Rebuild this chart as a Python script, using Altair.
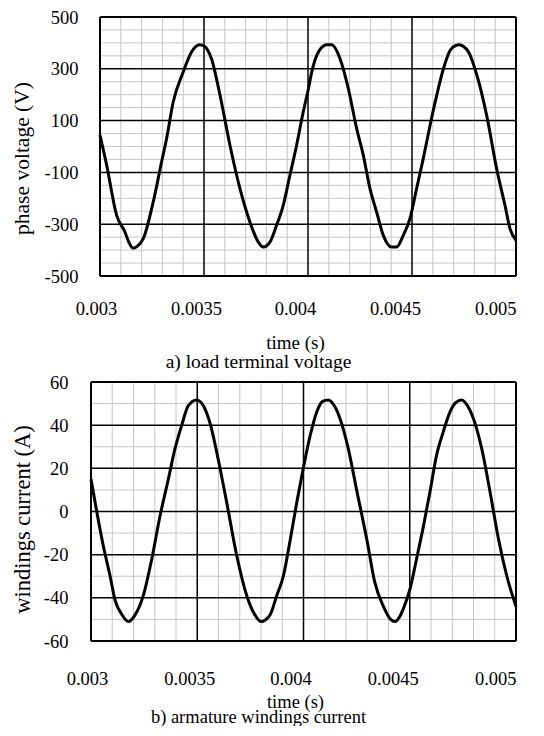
import altair as alt
import pandas as pd

FONT = "Liberation Serif"

# ---- data ----
time_v = [0.003, 0.003032, 0.00308, 0.00312, 0.00314, 0.00316, 0.00318, 0.003208, 0.003256, 0.003296,
          0.00332, 0.003352, 0.0034, 0.00344, 0.00346, 0.00348, 0.0035, 0.003536, 0.003577, 0.003625,
          0.003673, 0.003721, 0.003761, 0.003785, 0.003817, 0.003849, 0.003881, 0.003913, 0.003945,
          0.003977, 0.004002, 0.004018, 0.00405, 0.00409, 0.004114, 0.004154, 0.004194, 0.004234,
          0.004266, 0.004298, 0.00433, 0.004362, 0.004402, 0.004426, 0.004458, 0.00449, 0.004522,
          0.004554, 0.004587, 0.004619, 0.004651, 0.004683, 0.00471, 0.004728, 0.004748, 0.004772,
          0.004812, 0.004859, 0.004907, 0.004947, 0.004971, 0.005]
voltage = [44, -72, -266, -330, -372, -393, -385, -356, -214, -60,
           30, 172, 288, 365, 386, 393, 388, 339, 198, 4,
           -163, -292, -369, -388, -369, -304, -227, -111, 4,
           133, 223, 288, 365, 393, 393, 339, 223, 69,
           -34, -163, -253, -343, -388, -388, -343, -279, -163,
           -47, 82, 198, 300, 371, 390, 393, 386, 365,
           275, 120, -86, -227, -317, -362]

time_i = [0.003, 0.003027, 0.003058, 0.00309, 0.003113, 0.003144, 0.003176, 0.003207, 0.003246,
          0.003286, 0.003325, 0.003364, 0.003395, 0.003427, 0.003458, 0.003497, 0.003529, 0.00356,
          0.003599, 0.003639, 0.003686, 0.003733, 0.003772, 0.0038, 0.003842, 0.003874, 0.003905,
          0.003936, 0.003968, 0.003999, 0.004031, 0.004062, 0.00409, 0.004117, 0.004145, 0.004172,
          0.004211, 0.00425, 0.004298, 0.004336, 0.004376, 0.00441, 0.004431, 0.004451, 0.00447,
          0.004501, 0.004532, 0.004564, 0.004595, 0.004626, 0.004658, 0.004689, 0.004717, 0.004745,
          0.004772, 0.0048, 0.004839, 0.004878, 0.004918, 0.004957, 0.005]
current = [15, 0, -16, -30, -41, -47.5, -51, -48, -39,
           -22, -2, 15, 29, 40, 49, 51.7, 49, 41,
           24, 4, -20.5, -39, -48, -51, -48, -39, -30,
           -14, 4, 20, 35, 46, 51, 51.7, 49, 43,
           29, 10, -13, -33, -44, -50, -51, -49, -45,
           -36, -22, -7, 9, 26, 37, 46, 50.5, 51.7,
           49, 43, 29, 9, -13, -30, -44]

x_ticks = [0.003, 0.0035, 0.004, 0.0045, 0.005]
x_start, x_end = 0.003, 0.005
x_major = [0.0035, 0.004, 0.0045]
x_minor = [0.0031, 0.0032, 0.0033, 0.0034, 0.0036, 0.0037, 0.0038, 0.0039,
           0.0041, 0.0042, 0.0043, 0.0044, 0.0046, 0.0047, 0.0048, 0.0049]

v_ticks = [-500, -300, -100, 100, 300, 500]
v_edges = [-500, 500]
v_major = [-300, -100, 100, 300]
v_minor = [-450, -400, -350, -250, -200, -150, -50, 0, 50, 150, 200, 250, 350, 400, 450]

i_ticks = [-60, -40, -20, 0, 20, 40, 60]
i_edges = [-60, 60]
i_major = [-40, -20, 0, 20, 40]
i_minor = [-50, -30, -10, 10, 30, 50]

LABEL_ALIGN = {"condition": {"test": "datum.value >= 0.00499", "value": "right"}, "value": "center"}
LABEL_OFFSET = {"condition": [{"test": "datum.value < 0.0032", "value": -4},
                              {"test": "datum.value < 0.0037", "value": -8},
                              {"test": "datum.value < 0.0042", "value": -13},
                              {"test": "datum.value < 0.0047", "value": -17}],
                "value": 0}


def panel(t, y, ylabel, ydomain, yticks, yedges, ymajor, yminor, caption, xdomain,
          ylabpad, ytitlepad, ytitlesize, ytitley, xlabpad, xtitlepad, xtitlesize,
          capoffset, capsize):
    width, height = 425, 259
    xscale = alt.Scale(domain=xdomain, nice=False, zero=False)
    yscale = alt.Scale(domain=ydomain, nice=False, zero=False)
    xaxis = alt.Axis(values=x_ticks, labelExpr="'' + datum.value", title="time (s)",
                     labelAlign=LABEL_ALIGN, labelOffset=LABEL_OFFSET,
                     labelPadding=xlabpad, titlePadding=xtitlepad, titleFontSize=xtitlesize,
                     titleX=204)
    yaxis = alt.Axis(values=yticks, labelExpr="'' + datum.value", title=ylabel,
                     labelPadding=ylabpad, titlePadding=ytitlepad, titleFontSize=ytitlesize,
                     titleY=ytitley)

    def vr(vals, color, w):
        return alt.Chart(pd.DataFrame({"t": vals})).mark_rule(color=color, strokeWidth=w).encode(
            x=alt.X("t:Q", scale=xscale, axis=xaxis))

    def hr(vals, color, w):
        return alt.Chart(pd.DataFrame({"y": vals})).mark_rule(color=color, strokeWidth=w).encode(
            y=alt.Y("y:Q", scale=yscale, axis=yaxis),
            x=alt.X(datum=x_start, type="quantitative", scale=xscale, axis=xaxis),
            x2=alt.X2(datum=x_end))

    curve = alt.Chart(pd.DataFrame({"t": t, "y": y})).mark_line(
        color="black", strokeWidth=3, interpolate="monotone").encode(
        x=alt.X("t:Q", scale=xscale, axis=xaxis),
        y=alt.Y("y:Q", scale=yscale, axis=yaxis))

    return alt.layer(
        vr(x_minor, "#c6c6c6", 1), hr(yminor, "#c6c6c6", 1),
        vr(x_major, "black", 1.5), hr(ymajor, "black", 1.5),
        vr([x_start, x_end], "black", 2), hr(yedges, "black", 2),
        curve
    ).properties(
        width=width, height=height,
        title=alt.TitleParams(caption, orient="bottom", anchor="middle", frame="group",
                              dx=-45, offset=capoffset, font=FONT, fontSize=capsize,
                              fontWeight="normal", color="black"))


# top panel starts 9 px further right than the bottom one (wider y labels)
top_xdomain = [0.003 - 9 * 0.002 / 416, 0.005]
top = panel(time_v, voltage, "phase voltage (V)", [-500, 500], v_ticks, v_edges, v_major, v_minor,
            "a) load terminal voltage", top_xdomain,
            13, 11, 21.5, 141, 23, 15.5, 19, 1, 19.5)
bottom = panel(time_i, current, "windings current (A)", [-60, 60], i_ticks, i_edges, i_major, i_minor,
               "b) armature windings current", [0.003, 0.005],
               23, 9, 22.5, 137, 28, 5, 18.5, -3.5, 18.5)

chart = alt.concat(top, bottom, columns=1, spacing=1).properties(
    padding={"left": 3, "top": 0, "right": 0, "bottom": 0}
).configure_view(
    stroke=None
).configure_axis(
    grid=False, ticks=False, tickSize=0, domain=False,
    labelFont=FONT, labelFontSize=18.5, labelColor="black",
    labelFlush=False, labelOverlap=False,
    titleFont=FONT, titleFontWeight="normal", titleColor="black"
)

chart.save("out.html", embed_options={"renderer": "svg", "actions": False})
